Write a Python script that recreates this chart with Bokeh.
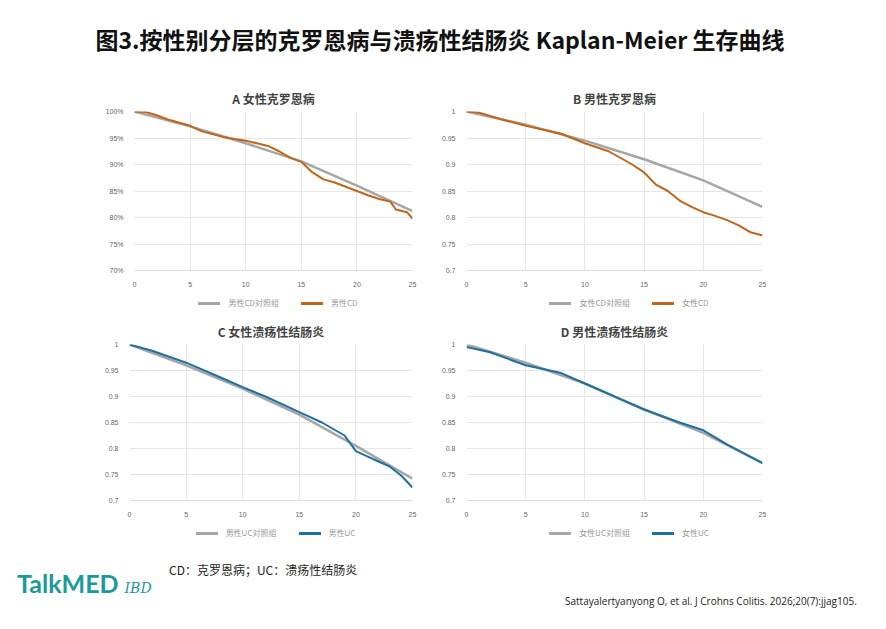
from bokeh.plotting import figure
from bokeh.layouts import column, row
from bokeh.models import Div, NumeralTickFormatter, Range1d
from bokeh.embed import file_html
from bokeh.resources import INLINE

a_ctrl_x = [0, 5, 10, 15, 20, 25]
a_ctrl = [1.0, 0.972, 0.940, 0.906, 0.860, 0.812]
a_cd_x = [0, 1, 2, 3, 5, 6, 8, 9, 10, 11, 12, 13, 14, 15, 16, 17, 18, 19, 20, 21, 22, 23, 23.5, 24.5, 25]
a_cd = [1.0, 0.999, 0.993, 0.985, 0.973, 0.963, 0.952, 0.948, 0.945, 0.940, 0.935, 0.925, 0.913, 0.905, 0.885, 0.872, 0.866, 0.858, 0.850, 0.842, 0.835, 0.830, 0.815, 0.810, 0.798]
b_ctrl_x = [0, 5, 10, 15, 20, 25]
b_ctrl = [1.0, 0.975, 0.945, 0.910, 0.870, 0.820]
b_cd_x = [0, 1, 3, 5, 8, 10, 12, 14, 15, 16, 17, 18, 19, 20, 21, 22, 23, 24, 25]
b_cd = [1.0, 0.998, 0.985, 0.973, 0.958, 0.940, 0.925, 0.900, 0.885, 0.862, 0.850, 0.832, 0.820, 0.810, 0.803, 0.795, 0.785, 0.772, 0.766]
c_ctrl_x = [0, 5, 10, 15, 20, 25]
c_ctrl = [1.0, 0.960, 0.915, 0.865, 0.805, 0.742]
c_uc_x = [0, 2, 5, 8, 10, 12, 15, 17, 19, 20, 21, 22, 23, 24, 25]
c_uc = [1.0, 0.988, 0.965, 0.937, 0.918, 0.900, 0.870, 0.850, 0.825, 0.795, 0.785, 0.775, 0.765, 0.748, 0.725]
d_ctrl_x = [0, 5, 10, 15, 20, 25]
d_ctrl = [1.0, 0.965, 0.925, 0.875, 0.830, 0.772]
d_uc_x = [0, 2, 5, 8, 10, 13, 15, 18, 20, 22, 25]
d_uc = [0.995, 0.985, 0.960, 0.945, 0.925, 0.895, 0.875, 0.850, 0.835, 0.808, 0.772]
y_ticks = [0.7, 0.75, 0.8, 0.85, 0.9, 0.95, 1.0]
x_ticks = [0, 5, 10, 15, 20, 25]

GRAY = "#a6a6a6"
ORANGE = "#c0651a"
BLUE = "#1f6f9f"
FONT = "Noto Sans CJK SC"

def panel(title, xs1, ys1, xs2, ys2, col, pct, bl, fw, fh):
    p = figure(frame_width=fw, frame_height=fh, output_backend="svg", toolbar_location=None,
               x_range=Range1d(0, 25), y_range=Range1d(0.7, 1.0),
               min_border_left=bl, min_border_right=430 - bl - fw, min_border_top=6, min_border_bottom=2)
    p.title.text = title
    p.title.align = "center"
    p.title.text_font = FONT
    p.title.text_font_size = "12px"
    p.title.text_font_style = "bold"
    p.line(xs1, ys1, color=GRAY, line_width=2.5)
    p.line(xs2, ys2, color=col, line_width=2)
    p.xaxis.ticker = x_ticks
    p.yaxis.ticker = y_ticks
    if pct:
        p.yaxis.formatter = NumeralTickFormatter(format="0%")
    for ax in (p.xaxis, p.yaxis):
        ax.axis_line_color = None
        ax.major_tick_line_color = None
        ax.minor_tick_line_color = None
        ax.major_label_text_font_size = "7px"
        ax.major_label_text_color = "#666666"
    p.xaxis.axis_line_color = "#dddddd"
    p.grid.grid_line_color = "#e6e6e6"
    p.outline_line_color = None
    return p

def legend(lab1, lab2, col, bl, fw):
    sw = "display:inline-block;width:22px;height:3px;vertical-align:middle;margin-right:8px;background:"
    html = (f"<div style='width:{fw}px;margin-left:{bl}px;text-align:center;font-family:\"Noto Sans CJK SC\";font-size:8px;color:#999'>"
            f"<span style='{sw}{GRAY}'></span>{lab1}<span style='display:inline-block;width:22px'></span>"
            f"<span style='{sw}{col}'></span>{lab2}</div>")
    return Div(text=html, width=430, height=16)

pa = panel("A 女性克罗恩病", a_ctrl_x, a_ctrl, a_cd_x, a_cd, ORANGE, True, 134, 278, 159)
pb = panel("B 男性克罗恩病", b_ctrl_x, b_ctrl, b_cd_x, b_cd, ORANGE, False, 36, 296, 159)
pc = panel("C 女性溃疡性结肠炎", c_ctrl_x, c_ctrl, c_uc_x, c_uc, BLUE, False, 129, 283, 156)
pd_ = panel("D 男性溃疡性结肠炎", d_ctrl_x, d_ctrl, d_uc_x, d_uc, BLUE, False, 36, 296, 156)
la = legend("男性CD对照组", "男性CD", ORANGE, 134, 278)
lb = legend("女性CD对照组", "女性CD", ORANGE, 36, 296)
lc = legend("男性UC对照组", "男性UC", BLUE, 129, 283)
ld = legend("女性UC对照组", "女性UC", BLUE, 36, 296)

title = Div(text="<div style='font-family:\"Noto Sans CJK SC\";font-size:23px;font-weight:bold;text-align:center;width:870px;color:#111'>图3.按性别分层的克罗恩病与溃疡性结肠炎 Kaplan-Meier 生存曲线</div>",
            width=870, height=72, styles={"padding-top": "18px"})
foot = Div(text="""<div style='position:relative;width:870px;height:90px;font-family:"Noto Sans CJK SC"'>
<div style='position:absolute;left:164px;top:11px;font-size:12px;color:#222'>CD：克罗恩病；UC：溃疡性结肠炎</div>
<div style='position:absolute;left:12px;top:16px;font-size:25px;font-weight:bold;color:#1a9a9a;font-family:Lato'>TalkMED <span style='font-size:14px;font-style:italic;font-weight:normal;font-family:"DejaVu Serif"'>IBD</span></div>
<div style='position:absolute;left:560px;top:44px;font-size:10px;color:#222;font-family:"Open Sans"'>Sattayalertyanyong O, et al. J Crohns Colitis. 2026;20(7):jjag105.</div>
</div>""", width=870, height=80)

layout = column(title, row(pa, pb), row(la, lb), row(pc, pd_), row(lc, ld), foot, spacing=0)
open("out.html", "w").write(file_html(layout, INLINE))
